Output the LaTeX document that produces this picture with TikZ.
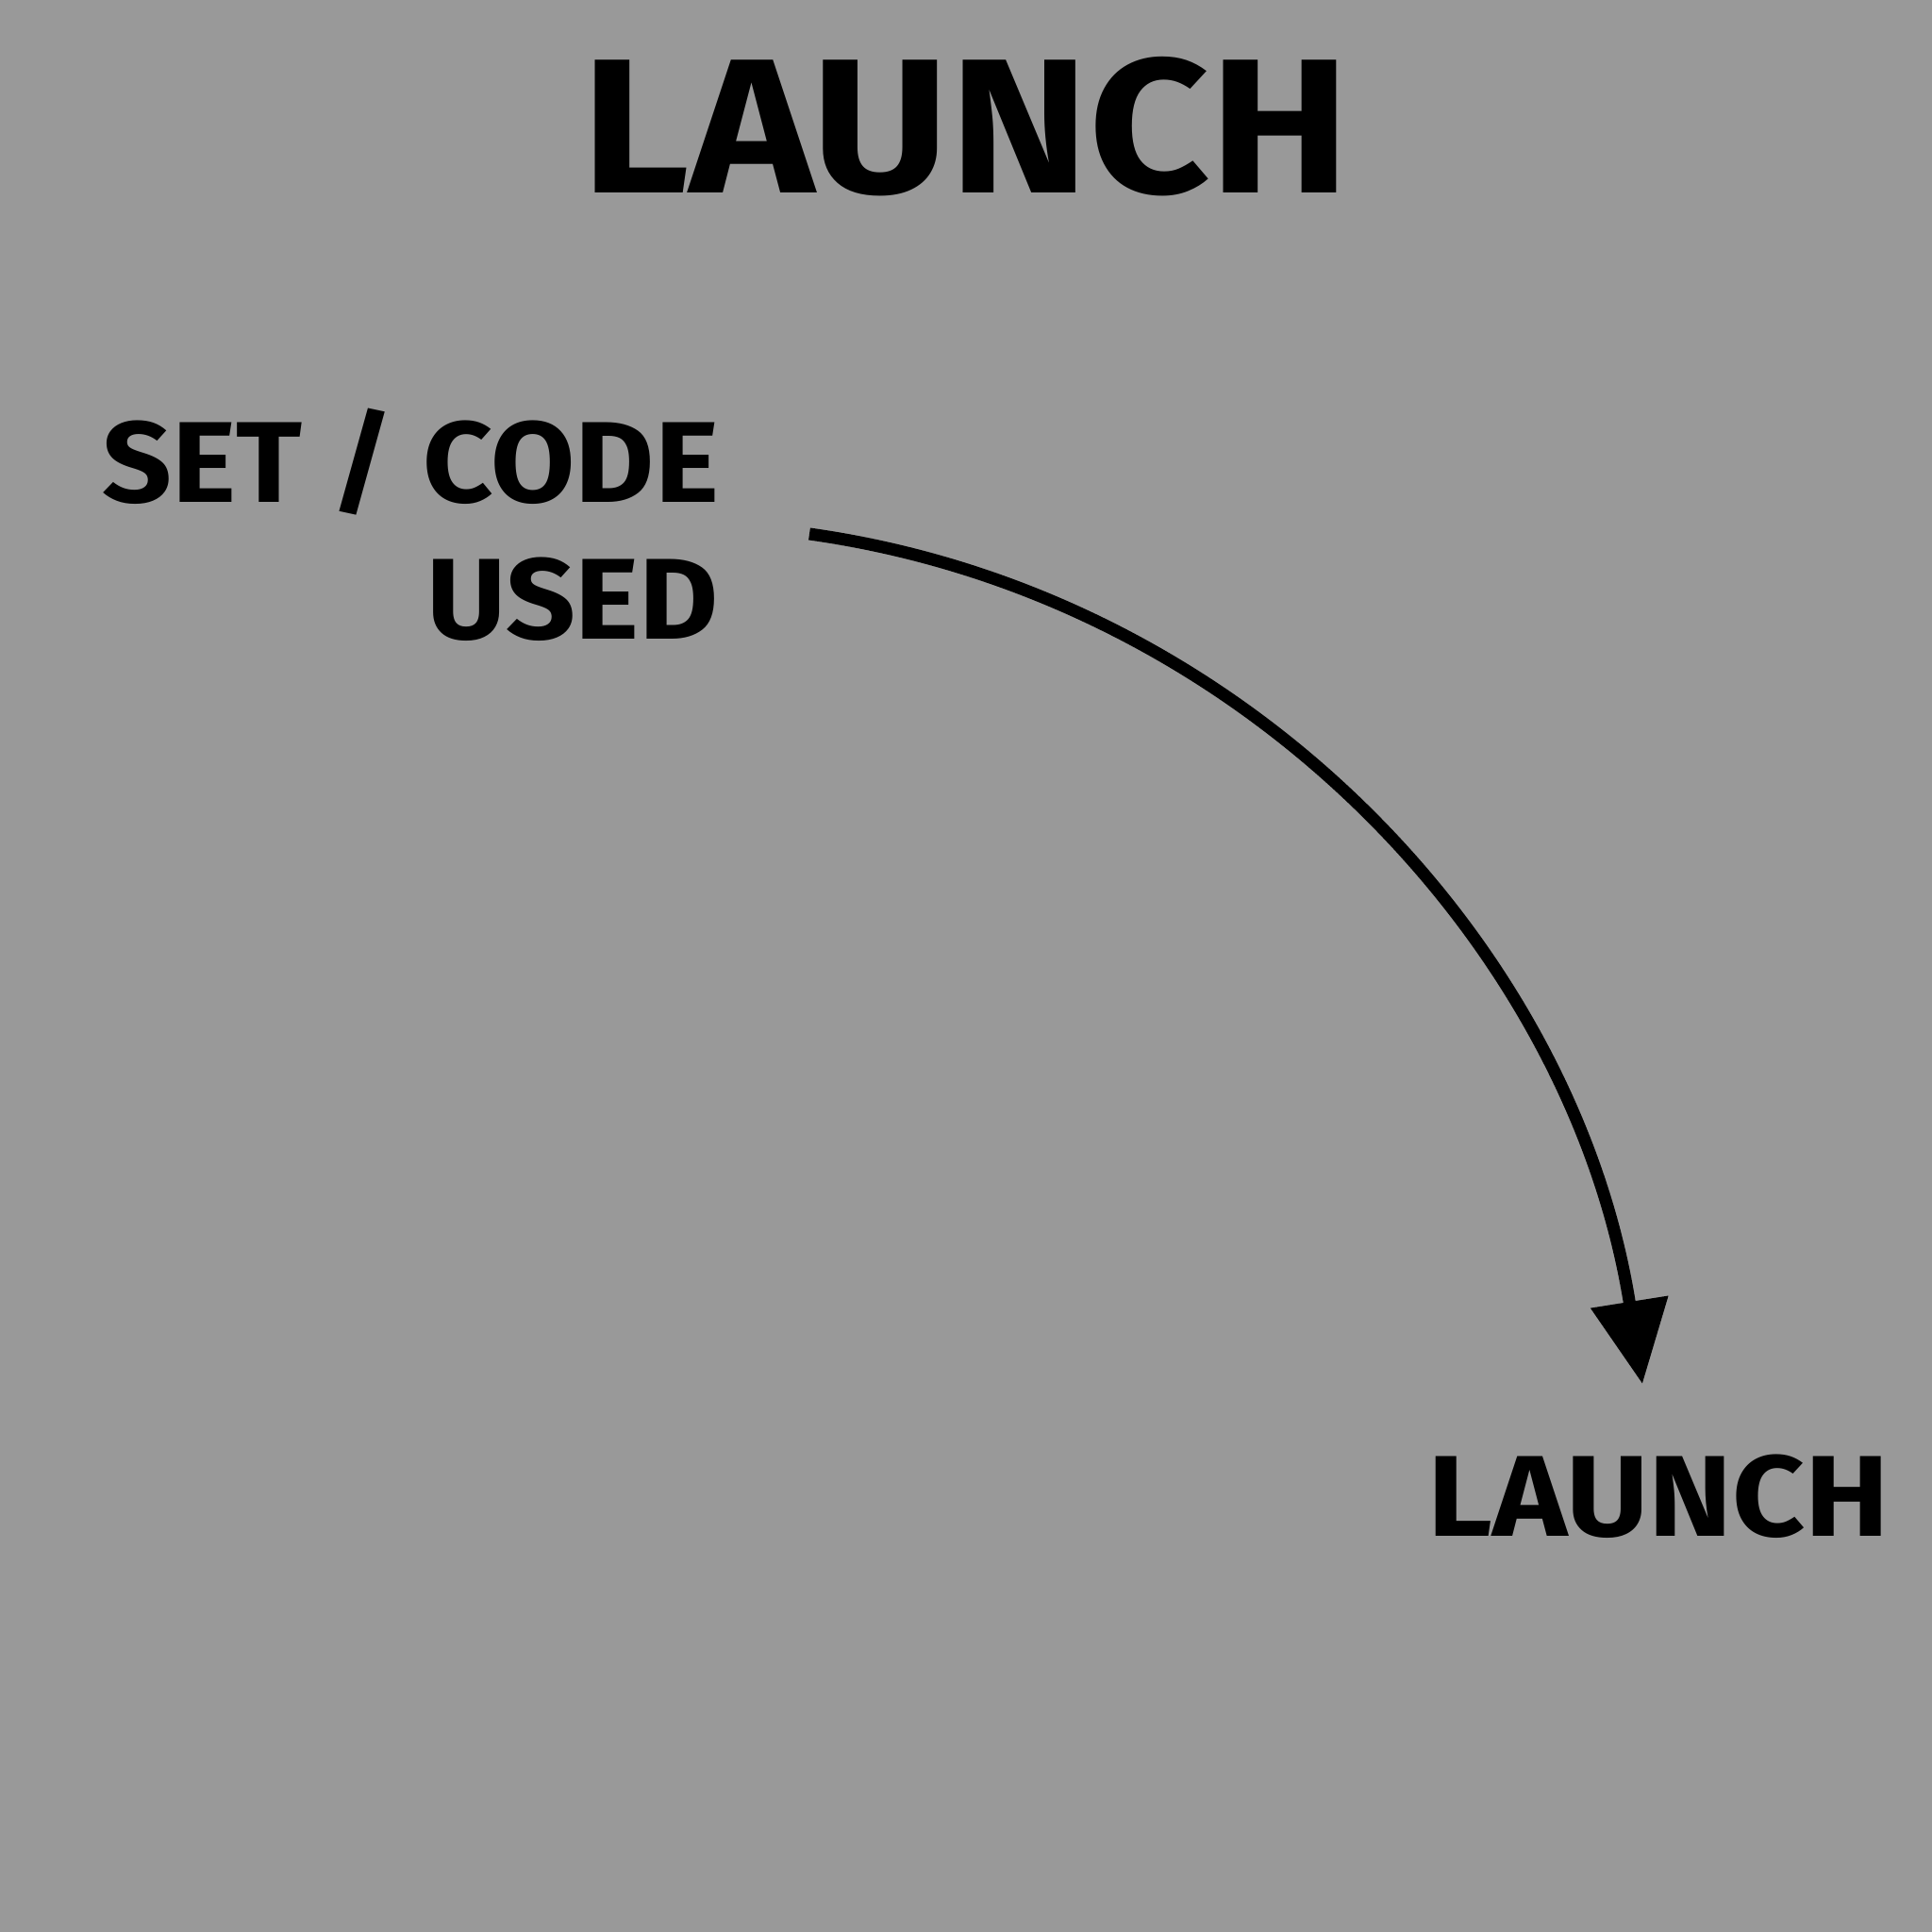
\documentclass[tikz,border=0pt]{standalone}
\usepackage{fontspec}
\setmainfont{Fira Sans}
\newfontfamily\labelfont{Fira Sans}[UprightFont=* Bold,FakeStretch=1.06]
\newfontfamily\launchfont{Fira Sans}[UprightFont=* Bold,FakeStretch=1.1]
\usetikzlibrary{arrows.meta}
\definecolor{bggrey}{HTML}{999999}
\begin{document}
\begin{tikzpicture}[
inner sep=0pt,
outer sep=0pt
]

  \tikzstyle{big}=[font=\launchfont\fontsize{57.8}{60}\selectfont,anchor=base]
  \tikzstyle{small}=[font=\labelfont\fontsize{34.7}{36}\selectfont,anchor=base east]
  \tikzstyle{flow}=[line width=0.13cm,-{Triangle[length=0.88cm,width=0.8cm]}]

  \fill [bggrey] (0,0) rectangle (20.48,20.48);

  \node (title) [big] at (10.24,18.43) {LAUNCH};

  \node (setcode) [small] at (7.62,15.15) {SET / CODE};
  \node (used) [small] at ([yshift=-1.45cm]setcode.base east) {USED};

  \node (launch) [small,font=\launchfont\fontsize{34.7}{36}\selectfont] at (20.03,4.19) {LAUNCH};

  \coordinate (arcstart) at (8.58,14.82);
  \coordinate (arcend) at (17.41,5.81);

  \draw [flow] (arcstart) to [out=-8,in=99,looseness=0.95] (arcend);

\end{tikzpicture}
\end{document}
